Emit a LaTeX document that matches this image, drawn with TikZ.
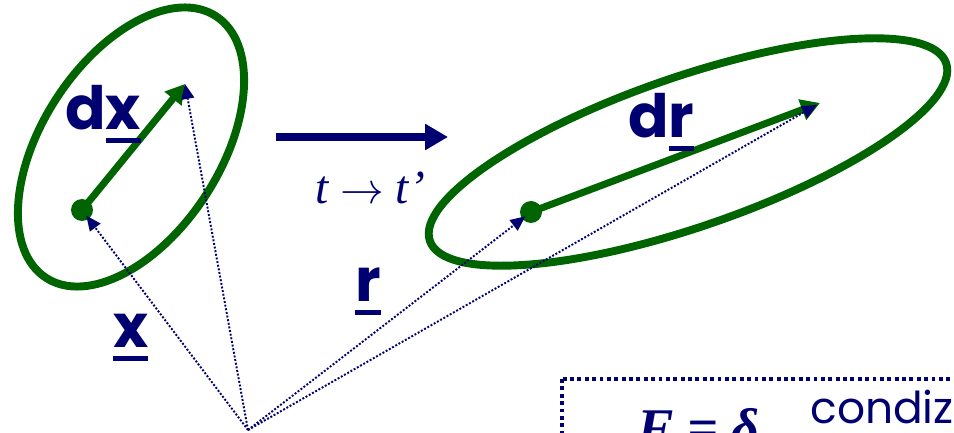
\documentclass[tikz,border=0pt]{standalone}
\usepackage{fontspec}
\newfontfamily\handfont{Poppins}
\newfontfamily\timesfont{Liberation Serif}
\usetikzlibrary{arrows.meta}
\definecolor{navy}{HTML}{000070}
\definecolor{leaf}{HTML}{006400}
\newcommand{\ubar}[1]{\leavevmode\vtop{\hbox{#1}\kern4.5pt\hrule height 2.8pt}}
\tikzset{
  blob/.style={draw=leaf, line width=4.5pt},
  spot/.style={fill=leaf},
  disp/.style={draw=leaf, line width=4pt, -{Triangle[length=0.38cm,width=0.42cm]}},
  ray/.style={draw=navy, line width=1.1pt, densely dotted, -{Triangle[length=0.3cm,width=0.26cm]}},
  motion/.style={draw=navy, line width=5pt, -{Triangle[length=0.46cm,width=0.5cm]}},
  vlabel/.style={text=navy, font=\handfont\bfseries\fontsize{34}{34}\selectfont, inner sep=0pt},
  tlabel/.style={text=navy, font=\timesfont\fontsize{27}{27}\selectfont, inner sep=0pt},
  cond/.style={draw=navy, line width=2.2pt, dash pattern=on 2.2pt off 2pt},
}
\begin{document}
\begin{tikzpicture}[x=0.02cm, y=0.02cm]
  \useasboundingbox (0,0) rectangle (954,433);
  \clip (0,0) rectangle (954,433);
  \coordinate (O) at (248,3);
  % reference configuration
  \coordinate (ell1) at (131,286);
  \coordinate (P) at (82,223);
  \coordinate (Ptip) at (185,349);
  \draw[blob] (ell1) ellipse [x radius=156, y radius=89, rotate=57];
  \fill[spot] (P) circle [radius=11];
  \draw[disp] (P) -- (Ptip);
  % current configuration
  \coordinate (ell2) at (688,281);
  \coordinate (Q) at (531,221);
  \coordinate (Qtip) at (820,330);
  \draw[blob] (ell2) ellipse [x radius=273, y radius=75, rotate=19];
  \fill[spot] (Q) circle [radius=11];
  \draw[disp] (Q) -- (Qtip);
  % position vectors
  \draw[ray, shorten >=4] (O) -- (P);
  \draw[ray] (O) -- (Ptip);
  \draw[ray, shorten >=4] (O) -- (Q);
  \draw[ray, shorten >=2] (O) -- (Qtip);
  % map t -> t'
  \coordinate (m0) at (276,296);
  \coordinate (m1) at (448,296);
  \draw[motion] (m0) -- (m1);
  \node[tlabel] (time) at (370,245) {\itshape t $\rightarrow$ t’};
  % labels
  \node[vlabel, anchor=base west] (ldx) at (65,303) {d\ubar{x}};
  \node[vlabel, anchor=base west] (ldr) at (628,295) {d\ubar{r}};
  \node[vlabel, anchor=base west] (lr) at (355,131) {\ubar{r}};
  \node[vlabel, anchor=base west] (lx) at (113,85) {\ubar{x}};
  % condition box
  \draw[cond] (562,54) rectangle (1000,-60);
  \node[tlabel, font=\timesfont\bfseries\fontsize{31}{31}\selectfont, anchor=base west] (feq) at (637,-13) {\itshape F = δ};
  \node[text=navy, font=\handfont\fontsize{25}{25}\selectfont, anchor=base west, inner sep=0pt] (cz) at (810,10) {condiz};
\end{tikzpicture}
\end{document}
